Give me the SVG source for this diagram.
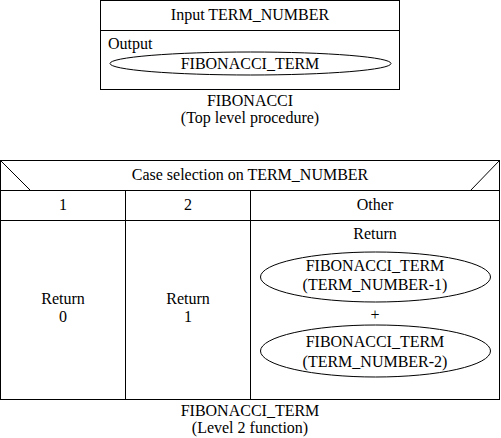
<svg xmlns="http://www.w3.org/2000/svg" width="501" height="438" viewBox="0 0 501 438">
<style>
.b{fill:none;stroke:#000;stroke-width:1}
.w{fill:#fff}
.t{font-family:'Liberation Serif','DejaVu Serif',serif;font-size:16px;fill:#000;text-anchor:middle}
.l{text-anchor:start}
</style>
<rect class="w" x="0" y="0" width="501" height="438"/>
<g id="top-procedure" class="t">
<rect class="b" x="100.5" y="0.5" width="299" height="89"/>
<line class="b" x1="100.5" y1="30.5" x2="399.5" y2="30.5"/>
<text x="250" y="20">Input TERM_NUMBER</text>
<text class="l" x="108" y="49">Output</text>
<g id="output-term">
<ellipse class="b" cx="250.5" cy="63.5" rx="140.5" ry="11.5"/>
<text x="250" y="69">FIBONACCI_TERM</text>
</g>
<text x="250" y="106">FIBONACCI</text>
<text x="250" y="123">(Top level procedure)</text>
</g>
<g id="case-function" class="t">
<rect class="b" x="0.5" y="160.5" width="499" height="239"/>
<line class="b" x1="0.5" y1="190.5" x2="499.5" y2="190.5"/>
<line class="b" x1="0.5" y1="220.5" x2="499.5" y2="220.5"/>
<line class="b" x1="125.5" y1="190.5" x2="125.5" y2="399.5"/>
<line class="b" x1="250.5" y1="190.5" x2="250.5" y2="399.5"/>
<line class="b" x1="0.5" y1="160.5" x2="30.5" y2="190.5"/>
<line class="b" x1="499.5" y1="160.5" x2="470.5" y2="190.5"/>
<text x="250" y="180">Case selection on TERM_NUMBER</text>
<text x="63" y="210">1</text>
<text x="188" y="210">2</text>
<text x="375" y="210">Other</text>
<g id="case-1">
<text x="63" y="304">Return</text>
<text x="63" y="322">0</text>
</g>
<g id="case-2">
<text x="188" y="304">Return</text>
<text x="188" y="322">1</text>
</g>
<g id="case-other">
<text x="375" y="239">Return</text>
<g id="term-1">
<ellipse class="b" cx="375.5" cy="277" rx="115" ry="25"/>
<text x="375" y="271">FIBONACCI_TERM</text>
<text x="375" y="290">(TERM_NUMBER-1)</text>
</g>
<text x="375" y="320">+</text>
<g id="term-2">
<ellipse class="b" cx="375.5" cy="351" rx="115" ry="26"/>
<text x="375" y="347">FIBONACCI_TERM</text>
<text x="375" y="367">(TERM_NUMBER-2)</text>
</g>
</g>
<text x="250" y="416">FIBONACCI_TERM</text>
<text x="250" y="433">(Level 2 function)</text>
</g>
</svg>
